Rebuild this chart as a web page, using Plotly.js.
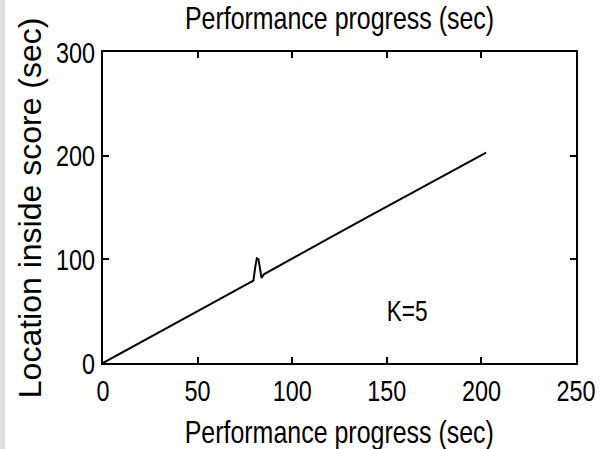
<!DOCTYPE html>
<html>
<head>
<meta charset="utf-8">
<script src="https://cdn.plot.ly/plotly-3.0.1.min.js"></script>
<style>
  html, body { margin: 0; padding: 0; background: #ffffff; }
  #chart { width: 600px; height: 449px; }
  #strip { position: absolute; left: 0; top: 0; width: 5px; height: 449px; background: #dcdcdc; z-index: 10; }
</style>
</head>
<body>
<div id="strip"></div>
<div id="chart"></div>
<script>
// Performance progress (sec) vs location inside score (sec)
const progress = [0, 20, 40, 60, 79.5, 80.5, 81.3, 82.2, 83, 83.8, 85, 100, 120, 140, 160, 165, 166.5, 168, 180, 202.5];
const scoreLocation = [0, 20, 40, 60, 79.5, 93, 101, 100, 88, 82, 85.5, 101, 121, 141, 161, 166, 167.6, 169, 181, 203];
const xTicks = [0, 50, 100, 150, 200, 250];
const yTicks = [0, 100, 200, 300];
const annotationText = "K=5";
const annX = 160.5, annY = 50;

const font = "Liberation Sans, Arial, sans-serif";
const narrowScale = 0.78;

const trace = {
  x: progress,
  y: scoreLocation,
  type: "scatter",
  mode: "lines",
  line: { color: "#000000", width: 2 },
  hoverinfo: "skip"
};

const axisCommon = {
  showgrid: false,
  zeroline: false,
  showline: true,
  linecolor: "#000000",
  linewidth: 2,
  mirror: "ticks",
  ticks: "inside",
  ticklen: 6,
  tickwidth: 2,
  tickcolor: "#000000",
  ticklabeloverflow: "allow",
  tickfont: { family: font, size: 30, color: "#000000" }
};

const layout = {
  width: 600,
  height: 449,
  margin: { l: 103, r: 24, t: 52, b: 86 },
  paper_bgcolor: "rgba(0,0,0,0)",
  plot_bgcolor: "#ffffff",
  showlegend: false,
  title: {
    text: "Performance progress (sec)",
    font: { family: font, size: 32, color: "#000000" },
    xref: "paper", x: 0.5, xanchor: "center",
    yref: "container", y: 0.960, yanchor: "middle"
  },
  xaxis: Object.assign({}, axisCommon, {
    range: [0, 250],
    tickvals: xTicks,
    ticktext: xTicks.map(String)
  }),
  yaxis: Object.assign({}, axisCommon, {
    range: [0, 300],
    tickvals: yTicks,
    ticktext: yTicks.map(String)
  }),
  annotations: [
    {
      x: annX, y: annY, xref: "x", yref: "y",
      text: annotationText, showarrow: false,
      font: { family: font, size: 29, color: "#000000" },
      xanchor: "center", yanchor: "middle"
    },
    {
      x: 0.5, y: -0.222, xref: "paper", yref: "paper",
      text: "Performance progress (sec)", showarrow: false,
      font: { family: font, size: 32, color: "#000000" },
      xanchor: "center", yanchor: "middle"
    },
    {
      x: -0.155, y: 0.5, xref: "paper", yref: "paper",
      text: "Location inside score (sec)", showarrow: false, textangle: -90,
      font: { family: font, size: 32, color: "#000000" },
      xanchor: "center", yanchor: "middle"
    }
  ]
};

function condense(el, s) {
  const bb = el.getBBox();
  const anchor = el.getAttribute("text-anchor") || "";
  let cx = bb.x + bb.width / 2;
  if (anchor === "end") cx = bb.x + bb.width;
  else if (anchor === "start") cx = bb.x;
  const prev = el.getAttribute("transform") || "";
  el.setAttribute("transform", (prev + " translate(" + cx + ",0) scale(" + s + ",1) translate(" + (-cx) + ",0)").trim());
}

Plotly.newPlot("chart", [trace], layout, { displayModeBar: false, staticPlot: true }).then(function (gd) {
  const sel = gd.querySelectorAll(".gtitle, .xtick text, .ytick text");
  sel.forEach(function (el) { condense(el, narrowScale); });
  const anns = gd.querySelectorAll(".annotation-text");
  anns.forEach(function (el, i) {
    if (i < 2) condense(el, narrowScale);
  });
});
</script>
</body>
</html>
